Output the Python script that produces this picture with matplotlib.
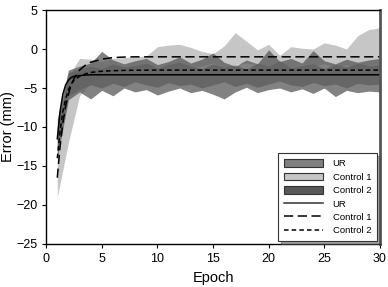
import numpy as np
import matplotlib.pyplot as plt
from matplotlib.patches import Patch
from matplotlib.lines import Line2D

plt.rcParams['font.family'] = ['Liberation Sans', 'DejaVu Sans']

epochs = np.arange(1, 31)

# shaded bands (lower / upper bound per epoch)
c1_low = [-19.0, -12.0, -6.0, -4.3, -3.5, -3.0, -2.8, -2.5, -2.3, -2.3,
          -2.2, -2.0, -2.4, -2.2, -1.8, -2.3, -2.0, -1.8, -2.0, -2.2,
          -1.8, -2.4, -2.0, -2.2, -1.9, -2.4, -2.0, -2.5, -2.0, -1.9]
c1_up = [-11.0, -3.5, -1.2, -1.3, -1.6, -1.2, -1.1, -1.0, -0.9, 0.3,
         0.5, 0.6, 0.2, -0.3, -0.6, 0.4, 2.1, 1.0, -0.1, 0.6,
         -0.8, 0.3, 0.1, 0.0, 0.8, 0.5, 0.0, 1.7, 2.5, 2.7]
ur_low = [-13.0, -6.0, -5.2, -4.6, -5.0, -4.4, -4.8, -4.2, -4.6, -4.9,
          -4.3, -4.7, -4.5, -5.0, -4.6, -4.2, -4.8, -4.4, -4.9, -4.5,
          -4.1, -4.6, -4.8, -4.3, -4.7, -4.5, -5.0, -4.4, -4.6, -4.5]
ur_up = [-10.0, -3.0, -2.6, -2.2, -2.5, -1.9, -2.3, -2.1, -1.8, -2.4,
         -2.0, -1.7, -2.2, -2.5, -1.9, -2.3, -2.0, -2.6, -1.8, -2.2,
         -1.5, -2.4, -2.1, -1.9, -2.5, -2.0, -2.3, -1.8, -2.1, -2.0]
c2_low = [-14.0, -6.5, -5.5, -6.4, -5.3, -6.0, -5.0, -5.5, -5.2, -5.9,
          -5.4, -5.0, -5.6, -5.3, -5.8, -6.4, -5.5, -4.9, -5.6, -5.2,
          -5.0, -5.5, -5.1, -5.7, -5.0, -6.1, -5.3, -5.6, -5.4, -5.5]
c2_up = [-9.0, -2.7, -2.2, -1.8, -0.3, -1.4, -1.9, -1.5, -1.2, -2.0,
         -1.6, -1.0, -1.8, -1.3, -0.5, -1.7, -2.2, -1.4, -1.9, -0.1,
         -1.6, -1.2, -1.8, -0.2, -1.5, -1.9, -1.3, -1.7, -1.4, -1.2]

# fitted mean curves
fit_epoch = [1, 1.25, 1.5, 1.75, 2, 2.25, 2.5, 3, 3.5, 4, 5, 6, 7, 8, 10, 30]
ur_fit = [-11.5, -8.0, -5.8, -4.6, -4.0, -3.65, -3.5, -3.4, -3.35, -3.3,
          -3.3, -3.3, -3.3, -3.3, -3.3, -3.3]
c1_fit = [-16.5, -12.5, -9.5, -7.3, -5.8, -4.6, -3.8, -2.7, -2.1, -1.7,
          -1.3, -1.1, -1.03, -1.0, -1.0, -1.0]
c2_fit = [-14.0, -10.5, -8.0, -6.4, -5.2, -4.5, -4.0, -3.5, -3.2, -3.0,
          -2.85, -2.78, -2.74, -2.72, -2.7, -2.7]

fig = plt.figure(figsize=(3.88, 2.87), dpi=100)
ax = fig.add_axes([0.119, 0.150, 0.860, 0.815])

light = '#c6c6c6'
mid = '#808080'
dark = '#585858'

ax.fill_between(epochs, c1_low, c1_up, color=light, lw=0)
ax.fill_between(epochs, ur_low, ur_up, color=mid, alpha=0.85, lw=0)
ax.fill_between(epochs, c2_low, c2_up, color=dark, alpha=0.75, lw=0)

ax.plot(fit_epoch, ur_fit, color='black', lw=1.1, ls='-')
ax.plot(fit_epoch, c1_fit, color='black', lw=1.1, ls=(0, (6, 3)))
ax.plot(fit_epoch, c2_fit, color='black', lw=1.1, ls=(0, (3, 2)))

ax.set_xlim(0, 30)
ax.set_ylim(-25, 5)
ax.set_xticks(np.arange(0, 31, 5))
ax.set_yticks(np.arange(-25, 6, 5))
ax.tick_params(labelsize=9, direction='out', length=3, top=False, right=False)
ax.set_xlabel('Epoch', fontsize=10.5)
ax.set_ylabel('Error (mm)', fontsize=10.5, labelpad=1)
for s in ax.spines.values():
    s.set_linewidth(1.0)
ax.spines['right'].set_linewidth(2.0)
ax.spines['right'].set_color('#555555')

handles = [
    Patch(facecolor=mid, edgecolor='#333333', lw=0.8, label='UR'),
    Patch(facecolor=light, edgecolor='#333333', lw=0.8, label='Control 1'),
    Patch(facecolor=dark, edgecolor='#333333', lw=0.8, label='Control 2'),
    Line2D([], [], color='#333333', lw=1.1, ls='-', label='UR'),
    Line2D([], [], color='black', lw=1.1, ls=(0, (6, 3)), label='Control 1'),
    Line2D([], [], color='black', lw=1.1, ls=(0, (3, 2)), label='Control 2'),
]
leg = ax.legend(handles=handles, loc='lower right', fontsize=6.8, frameon=True,
                fancybox=False, shadow=True, handlelength=4.2, handleheight=0.9,
                labelspacing=0.45, borderpad=0.6, handletextpad=1.0,
                borderaxespad=0.3)
leg.get_frame().set_edgecolor('#333333')
leg.get_frame().set_linewidth(0.8)

fig.savefig('out.png', dpi=100)
